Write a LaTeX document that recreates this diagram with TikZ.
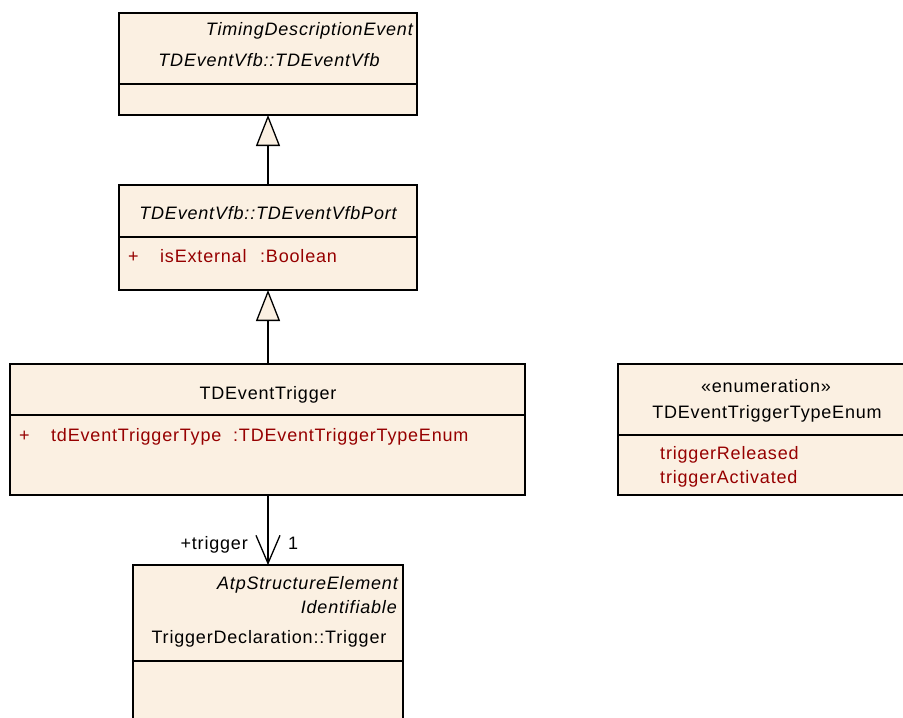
\documentclass[tikz,border=0pt]{standalone}
\usepackage{fontspec}
\setmainfont{Liberation Sans}[LetterSpace=4.5]
\usetikzlibrary{arrows.meta}
\definecolor{cream}{RGB}{251,240,226}
\definecolor{attr}{RGB}{150,0,0}
\begin{document}
\begin{tikzpicture}[x=1pt,y=-1pt,
  box/.style={draw=black, fill=cream, line width=1.3pt, anchor=north west, inner sep=0pt, outer sep=0pt},
  sep/.style={draw=black, line width=1.3pt},
  txt/.style={font=\fontsize{18}{20}\selectfont, inner sep=0pt, anchor=base},
  itxt/.style={txt, font=\fontsize{18}{20}\selectfont\itshape},
  atxt/.style={txt, text=attr, anchor=base west},
  gen/.style={draw=black, line width=1.3pt, -{Triangle[open, fill=cream, length=31pt, width=24pt]}},
  assoc/.style={draw=black, line width=1.3pt, -{Straight Barb[length=28pt, width=24pt]}}
]
\useasboundingbox (0,0) rectangle (903,718);
\clip (0,0) rectangle (903,718);

% boxes
\node[box, minimum width=298pt, minimum height=102pt] (b1) at (119,13) {};
\node[box, minimum width=298pt, minimum height=105pt] (b2) at (119,185) {};
\node[box, minimum width=515pt, minimum height=131pt] (b3) at (10,364) {};
\node[box, minimum width=298pt, minimum height=131pt] (b4) at (618,364) {};
\node[box, minimum width=270pt, minimum height=175pt] (b5) at (133,565) {};

% compartment separators
\draw[sep] (b1.west |- 0,84) -- (b1.east |- 0,84);
\draw[sep] (b2.west |- 0,237) -- (b2.east |- 0,237);
\draw[sep] (b3.west |- 0,415) -- (b3.east |- 0,415);
\draw[sep] (b4.west |- 0,435) -- (b4.east |- 0,435);
\draw[sep] (b5.west |- 0,661) -- (b5.east |- 0,661);

% box 1
\node[itxt, anchor=base east] (t1a) at (413,35) {TimingDescriptionEvent};
\node[itxt] (t1b) at (269,66) {TDEventVfb::TDEventVfb};

% box 2
\node[itxt] (t2) at (268,219) {TDEventVfb::TDEventVfbPort};
\node[atxt] (p2) at (128,262) {+};
\node[atxt] (a2) at (160,262) {isExternal};
\node[atxt] (y2) at (260,262) {:Boolean};

% box 3
\node[txt] (t3) at (268,399) {TDEventTrigger};
\node[atxt] (p3) at (19,441) {+};
\node[atxt] (a3) at (51,441) {tdEventTriggerType};
\node[atxt] (y3) at (233,441) {:TDEventTriggerTypeEnum};

% box 4
\node[txt] (s4) at (766,392) {«enumeration»};
\node[txt] (t4) at (767,418) {TDEventTriggerTypeEnum};
\node[atxt] (l4a) at (660,459) {triggerReleased};
\node[atxt] (l4b) at (660,483) {triggerActivated};

% box 5
\node[itxt, anchor=base east] (t5a) at (398,589) {AtpStructureElement};
\node[itxt, anchor=base east] (t5b) at (397,613) {Identifiable};
\node[txt] (t5c) at (269,643) {TriggerDeclaration::Trigger};

% connectors
\draw[gen] (b2.north) -- (b1.south);
\draw[gen] (b3.north -| b2.south) -- (b2.south);
\draw[assoc] (b3.south -| b5.north) -- (b5.north);
\node[txt, anchor=base east] (r1) at (248,549) {+trigger};
\node[txt, anchor=base west] (r2) at (288,549) {1};
\end{tikzpicture}
\end{document}
